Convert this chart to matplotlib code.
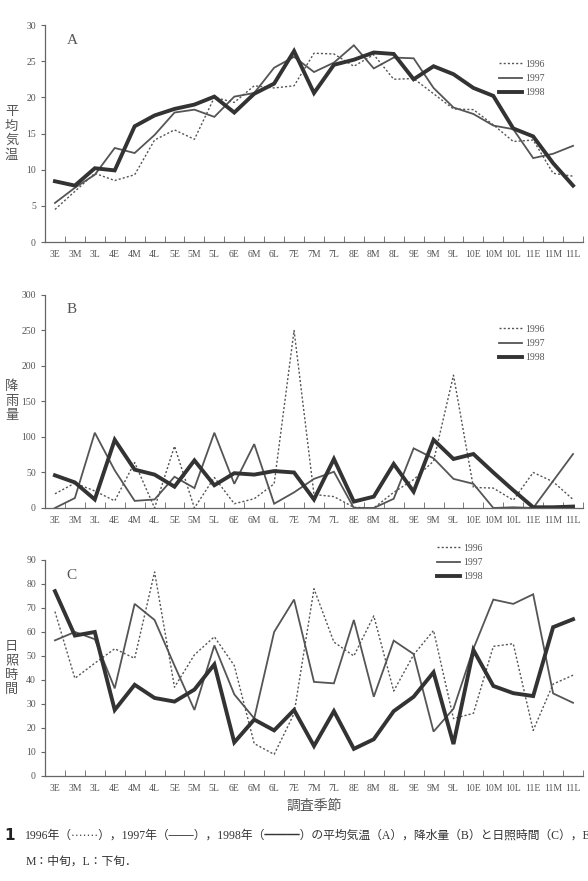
import matplotlib
matplotlib.use("Agg")
import matplotlib.pyplot as plt
from matplotlib.ticker import FixedLocator, MultipleLocator

plt.rcParams['font.family'] = ['Liberation Serif', 'Noto Sans CJK JP', 'DejaVu Sans']

seasons = ['3E', '3M', '3L', '4E', '4M', '4L', '5E', '5M', '5L', '6E', '6M', '6L',
           '7E', '7M', '7L', '8E', '8M', '8L', '9E', '9M', '9L', '10E', '10M', '10L',
           '11E', '11M', '11L']

# 平均気温
temp_1996 = [4.5, 7.0, 9.5, 8.5, 9.3, 14.1, 15.5, 14.2, 20.0, 19.3, 21.6, 21.3,
             21.6, 26.1, 26.0, 24.3, 25.9, 22.5, 22.6, 20.5, 18.4, 18.3, 16.2, 13.9,
             14.1, 9.5, 9.1]
temp_1997 = [5.4, 7.5, 9.3, 13.0, 12.3, 14.8, 17.9, 18.3, 17.3, 20.1, 20.6, 24.1,
             25.6, 23.5, 24.8, 27.2, 24.0, 25.5, 25.4, 21.3, 18.6, 17.7, 16.1, 15.6,
             11.6, 12.2, 13.3]
temp_1998 = [8.4, 7.8, 10.2, 9.9, 16.0, 17.5, 18.4, 19.0, 20.1, 17.9, 20.5, 21.9,
             26.4, 20.6, 24.5, 25.2, 26.2, 26.0, 22.5, 24.3, 23.2, 21.3, 20.2, 15.7,
             14.6, 10.9, 7.8]

# 降雨量
rain_1996 = [20, 35, 24, 10, 64, 0, 87, 0, 43, 6, 13, 34,
             250, 19, 16, 1, 0, 22, 40, 66, 187, 29, 28, 11,
             50, 37, 12]
rain_1997 = [0, 14, 106, 53, 10, 12, 44, 28, 106, 34, 90, 6,
             22, 41, 51, 0, 0, 13, 84, 70, 41, 34, 0, 1,
             0, 38, 76]
rain_1998 = [46, 36, 12, 96, 54, 47, 30, 67, 32, 49, 47, 52,
             50, 12, 69, 9, 16, 62, 23, 96, 69, 76, 50, 25,
             1, 1, 2]

# 日照時間
sun_1996 = [68.5, 40.7, 47, 53, 49, 85, 37, 50.5, 58, 46, 13.5, 9,
            26, 78, 55.8, 50, 66.7, 35.4, 50.5, 60.6, 23.9, 26.1, 54, 55.1,
            19, 38.3, 42]
sun_1997 = [56.5, 60, 57, 36.5, 71.7, 65, 46, 27.5, 54.4, 34, 24, 60,
            73.5, 39.2, 38.6, 65, 33, 56.4, 50.8, 18.5, 28, 53, 73.5, 71.7,
            75.7, 34.4, 30.5]
sun_1998 = [77, 58.5, 60, 27.5, 38, 32.5, 31, 36, 46.5, 14, 23.5, 19,
            27.5, 12.5, 27, 11.3, 15.3, 27, 33, 43.2, 13.3, 52.5, 37.5, 34.5,
            33.3, 62, 65.3]

years = ['1996', '1997', '1998']
styles = [dict(color='#555555', lw=1.0, ls=(0, (1.5, 1.5))),
          dict(color='#555555', lw=1.3, ls='-'),
          dict(color='#333333', lw=2.8, ls='-')]

txt = '#555555'
fig = plt.figure(figsize=(5.88, 8.81), dpi=100)

panels = [
    ('A', [temp_1996, temp_1997, temp_1998], 30, 5, '平\n均\n気\n温',
     [0.0765, 0.7253, 0.915, 0.2463], (0.843, 0.84)),
    ('B', [rain_1996, rain_1997, rain_1998], 300, 50, '降\n雨\n量',
     [0.0765, 0.4234, 0.915, 0.2418], (0.843, 0.86)),
    ('C', [sun_1996, sun_1997, sun_1998], 90, 10, '日\n照\n時\n間',
     [0.0765, 0.1192, 0.915, 0.2452], (0.728, 1.075)),
]

x = list(range(len(seasons)))
for letter, series, ymax, ystep, ylab, rect, leg_pos in panels:
    ax = fig.add_axes(rect)
    for vals, yr, st in zip(series, years, styles):
        ax.plot(x, vals, label=yr, solid_joinstyle='miter', **st)
    ax.set_xlim(-0.5, len(seasons) - 0.5)
    ax.set_ylim(0, ymax)
    ax.yaxis.set_major_locator(MultipleLocator(ystep))
    ax.set_xticks(x)
    ax.set_xticklabels(seasons)
    ax.xaxis.set_minor_locator(FixedLocator([i + 0.5 for i in range(-1, len(seasons))]))
    ax.tick_params(axis='x', which='major', length=0, pad=6, labelsize=7, labelcolor=txt)
    ax.tick_params(axis='x', which='minor', direction='in', length=4, color='#666666')
    ax.tick_params(axis='y', which='major', direction='out', length=3, labelsize=7,
                   labelcolor=txt, color='#666666', pad=3.5)
    for s in ['top', 'right']:
        ax.spines[s].set_visible(False)
    for s in ['left', 'bottom']:
        ax.spines[s].set_color('#666666')
        ax.spines[s].set_linewidth(0.9)
    ax.text(0.04, 0.93, letter, transform=ax.transAxes, fontsize=11, color=txt,
            va='center', ha='left')
    ax.set_ylabel(ylab, rotation=0, fontsize=9.5, color=txt, va='center', ha='center',
                  linespacing=1.15, family=['Noto Sans CJK JP'])
    ax.yaxis.set_label_coords(-0.062, 0.5)
    ax.legend(loc='upper left', bbox_to_anchor=leg_pos, frameon=False, fontsize=7,
              handlelength=2.4, handletextpad=0.3, labelspacing=0.55,
              borderpad=0, borderaxespad=0, labelcolor=txt)
    if letter == 'C':
        ax.set_xlabel('調査季節', fontsize=10, color=txt, labelpad=4,
                      family=['Noto Sans CJK JP'])

fig.text(0.008, 1 - 836 / 881, '1', fontsize=11, color='#222222', va='center',
         family=['DejaVu Sans'], weight='bold')
fig.text(0.043, 1 - 836 / 881,
         '1996年（·······），1997年（───），1998年（━━━）の平均気温（A），降水量（B）と日照時間（C），E：上旬，',
         fontsize=8.5, color='#333333', va='center')
fig.text(0.043, 1 - 862 / 881, 'M：中旬，L：下旬．', fontsize=8.5, color='#333333',
         va='center')

fig.savefig('out.png', dpi=100)
